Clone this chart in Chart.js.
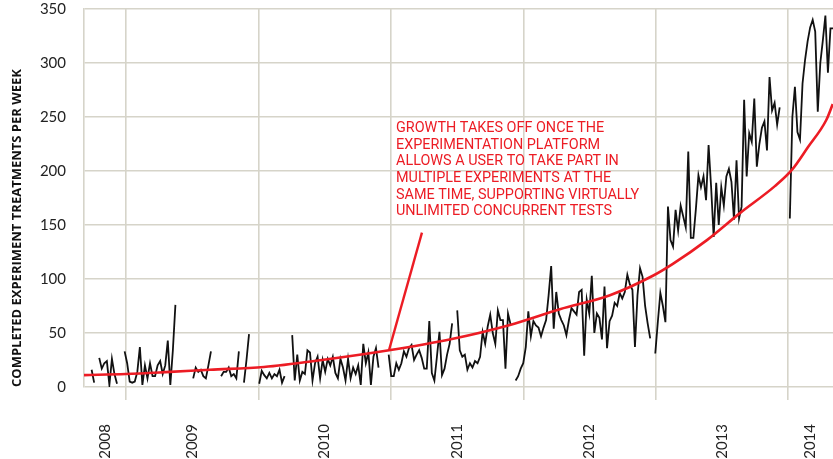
<!DOCTYPE html>
<html>
<head>
<meta charset="utf-8">
<script src="https://cdn.jsdelivr.net/npm/chart.js@4.4.1/dist/chart.umd.min.js"></script>
<style>
    html, body { margin: 0; padding: 0; background: #ffffff; }
    #contenedor { width: 833px; height: 459px; }
</style>
</head>
<body>
<div id="contenedor"><canvas id="grafico" width="833" height="459"></canvas></div>
<script>
// Datos (una muestra por semana, null = sin datos)
const primeraSemana = 2008.684;           // año decimal de la primera semana
const semanaEnAnios = 7 / 365.25;

const tratamientosPorSemana = [
    null, null, null, 16, 4, null, 27, 17, 22, 24,
    2, 26, 12, 3, null, null, 33, 22, 5, 4,
    5, 14, 37, 2, 20, 8, 22, 10, 10, 20,
    24, 12, 20, 43, 2, 34, 76, null, null, null,
    null, null, null, 8, 18, 14, 16, 10, 8, 20,
    33, null, null, null, 10, 14, 14, 18, 10, 12,
    8, 33, null, 4, 25, 49, null, null, null, 3,
    15, 11, 8, 13, 8, 12, 10, 16, 4, 10,
    null, null, 48, 6, 30, 6, 14, 12, 34, 32,
    6, 22, 28, 8, 25, 14, 26, 20, 28, 13,
    8, 26, 18, 6, 26, 8, 18, 12, 20, 2,
    40, 22, 32, 2, 28, 36, 18, null, null, null,
    30, 10, 10, 22, 16, 22, 33, 28, 36, 39,
    25, 30, 34, 27, 17, 17, 61, 13, 6, 28,
    51, 11, 17, 30, 40, 59, null, 71, 34, 28,
    30, 16, 22, 18, 24, 22, 28, 51, 40, 56,
    67, 50, 40, 71, 62, 62, 17, 68, 58, null,
    6, 10, 17, 22, 37, 70, 47, 61, 57, 55,
    47, 55, 62, 85, 112, 54, 88, 68, 62, 57,
    48, 62, 73, 70, 67, 88, 90, 29, 81, 68,
    103, 50, 68, 64, 44, 93, 36, 61, 66, 78,
    75, 87, 82, 88, 104, 95, 90, 37, 85, 110,
    102, 75, 59, 45, null, 31, 60, 87, 75, 60,
    167, 136, 130, 164, 145, 168, 158, 148, 218, 138,
    138, 165, 196, 185, 195, 173, 224, 185, 139, 189,
    150, 185, 168, 195, 202, 190, 155, 210, 156, 167,
    266, 195, 235, 227, 267, 204, 225, 240, 246, 219,
    287, 256, 263, 243, 259, null, null, null, 156, 250,
    278, 236, 229, 281, 303, 320, 333, 340, 329, 255,
    300, 321, 344, 291, 332, 332
];

// Curva de tendencia (roja)
const tendenciaAnios   = [2008.684, 2009.0, 2009.333, 2009.635, 2010.042, 2010.48, 2010.986, 2011.461, 2011.899, 2012.276, 2012.654, 2012.978, 2013.129, 2013.386, 2013.635, 2013.899, 2014.027, 2014.148, 2014.286, 2014.336];
const tendenciaValores = [11, 12, 14, 16, 18.5, 25, 34, 44.5, 57.5, 72, 85, 103, 114, 136, 161, 186, 201, 222, 247, 262];

// Flecha de la nota
const punteroAnios   = [2010.986, 2011.235];
const punteroValores = [34, 143];

const etiquetasAnios = ['2008', '2009', '2010', '2011', '2012', '2013', '2014'];
const lineasNota = [
    'GROWTH TAKES OFF ONCE THE',
    'EXPERIMENTATION PLATFORM',
    'ALLOWS A USER TO TAKE PART IN',
    'MULTIPLE EXPERIMENTS AT THE',
    'SAME TIME, SUPPORTING VIRTUALLY',
    'UNLIMITED CONCURRENT TESTS'
];
const notaAnio = 2011.039;
const notaValor = 246;

const colorGrilla = '#d6d4c9';
const rojo = '#ec1c24';
const ultimaSemana = primeraSemana + (tratamientosPorSemana.length - 1) * semanaEnAnios;

class Grafico {
    constructor(canvasID) {
        this.canvas = document.getElementById(canvasID);
    }

    #puntosSemanales() {
        return tratamientosPorSemana.map((valor, i) => ({ x: primeraSemana + i * semanaEnAnios, y: valor }));
    }

    #unirPuntos(xs, ys) {
        return xs.map((x, i) => ({ x: x, y: ys[i] }));
    }

    // Ticks: límites de año (con grilla) y centros de año (con etiqueta)
    static #ticksDeAnios() {
        const ticks = [];
        etiquetasAnios.forEach(etiqueta => {
            const anio = Number(etiqueta);
            const desde = Math.max(anio, primeraSemana);
            const hasta = Math.min(anio + 1, ultimaSemana);
            if (anio > primeraSemana) ticks.push({ value: anio });
            ticks.push({ value: (desde + hasta) / 2 });
        });
        return ticks.sort((a, b) => a.value - b.value);
    }

    // Chart.js reserva espacio para las etiquetas extremas; acá no hace falta
    static #sinRelleno(escala) {
        escala.paddingTop = 0;
        escala.paddingBottom = 0;
        escala.paddingLeft = 0;
        escala.paddingRight = 0;
    }

    static #pluginNota() {
        return {
            id: 'nota',
            afterDatasetsDraw(chart) {
                const { ctx, scales: { x, y } } = chart;
                const px = x.getPixelForValue(notaAnio);
                const py = y.getPixelForValue(notaValor);
                ctx.save();
                ctx.font = '14.4px Roboto';
                ctx.fillStyle = rojo;
                ctx.textBaseline = 'top';
                lineasNota.forEach((linea, i) => ctx.fillText(linea, px, py + i * 16.6));
                ctx.restore();
            }
        };
    }

    graficar() {
        return new Chart(this.canvas, {
            type: 'line',
            data: {
                datasets: [
                    {
                        data: this.#puntosSemanales(),
                        borderColor: '#111111',
                        borderWidth: 1.8,
                        pointRadius: 0,
                        tension: 0,
                        spanGaps: false,
                        order: 2
                    },
                    {
                        data: this.#unirPuntos(tendenciaAnios, tendenciaValores),
                        borderColor: rojo,
                        borderWidth: 2.6,
                        pointRadius: 0,
                        cubicInterpolationMode: 'monotone',
                        order: 1
                    },
                    {
                        data: this.#unirPuntos(punteroAnios, punteroValores),
                        borderColor: rojo,
                        borderWidth: 2.4,
                        pointRadius: 0,
                        order: 0
                    }
                ]
            },
            options: {
                responsive: false,
                animation: false,
                devicePixelRatio: 1,
                layout: { padding: { top: 9, right: 0, bottom: 0, left: 0 } },
                plugins: { legend: { display: false }, tooltip: { enabled: false } },
                scales: {
                    x: {
                        type: 'linear',
                        min: primeraSemana,
                        max: ultimaSemana,
                        afterBuildTicks: escala => { escala.ticks = Grafico.#ticksDeAnios(); },
                        afterFit: escala => { escala.height = 72; Grafico.#sinRelleno(escala); },
                        grid: {
                            color: ctx => (ctx.tick && Number.isInteger(ctx.tick.value)) ? colorGrilla : 'rgba(0,0,0,0)',
                            lineWidth: 1.6,
                            tickLength: 13
                        },
                        border: { display: false },
                        ticks: {
                            autoSkip: false,
                            minRotation: 90,
                            maxRotation: 90,
                            padding: 24,
                            color: '#222222',
                            font: { family: 'Lato', size: 15 },
                            callback: valor => Number.isInteger(valor) ? '' : etiquetasAnios[Math.floor(valor) - 2008]
                        }
                    },
                    y: {
                        min: 0,
                        max: 350,
                        afterFit: escala => { escala.width = 84; Grafico.#sinRelleno(escala); },
                        grid: { color: colorGrilla, lineWidth: 1.6, drawTicks: false },
                        border: { display: true, color: colorGrilla, width: 1.6 },
                        ticks: {
                            stepSize: 50,
                            padding: 18,
                            color: '#222222',
                            font: { family: 'Lato', size: 15 }
                        },
                        title: {
                            display: true,
                            text: 'COMPLETED EXPERIMENT TREATMENTS PER WEEK',
                            align: 'start',
                            color: '#111111',
                            font: { family: 'Open Sans', weight: 'bold', size: 13 },
                            padding: { top: 9, bottom: 0 }
                        }
                    }
                }
            },
            plugins: [Grafico.#pluginNota()]
        });
    }
}

new Grafico('grafico').graficar();
</script>
</body>
</html>
